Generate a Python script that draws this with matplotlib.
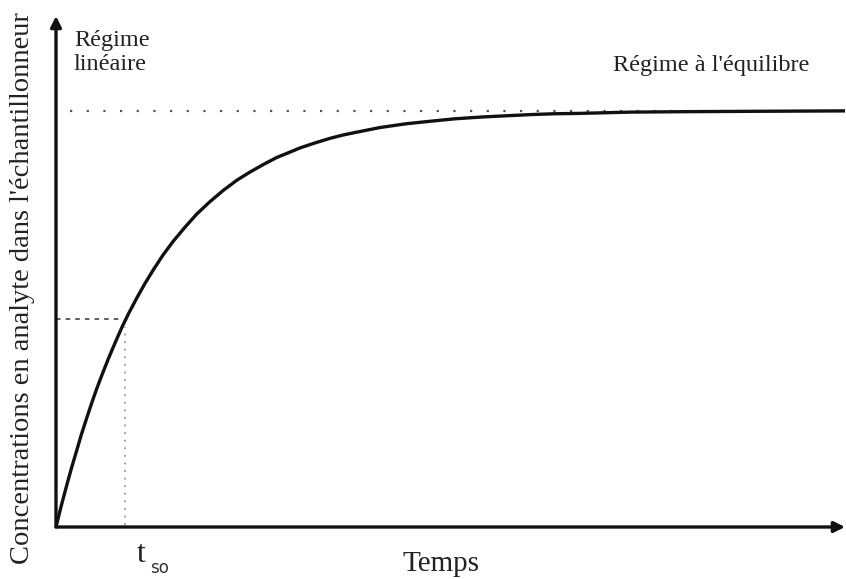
import matplotlib
matplotlib.use("Agg")
import matplotlib.pyplot as plt

# Concentration (time in units of t50,
# concentration as a fraction of the equilibrium value)
time = [0.0, 0.075, 0.153, 0.22, 0.296, 0.36, 0.439, 0.51, 0.581, 0.66,
        0.747, 0.84, 0.939, 1.04, 1.153, 1.27, 1.39, 1.53, 1.676, 1.84,
        2.01, 2.2, 2.39, 2.58, 2.771, 2.96, 3.153, 3.3, 3.486, 3.7, 3.914,
        4.1, 4.271, 4.45, 4.629, 5.0, 5.343, 5.7, 6.057, 6.4, 6.771, 7.1,
        7.486, 8.2, 8.914, 10.0, 11.29]
conc = [0.0, 0.051, 0.100, 0.141, 0.184, 0.221, 0.262, 0.298, 0.332, 0.367,
        0.404, 0.441, 0.479, 0.514, 0.550, 0.585, 0.618, 0.654, 0.687, 0.720,
        0.752, 0.782, 0.809, 0.833, 0.853, 0.871, 0.888, 0.898, 0.911, 0.923,
        0.934, 0.942, 0.948, 0.954, 0.960, 0.969, 0.975, 0.981, 0.985, 0.988,
        0.991, 0.993, 0.994, 0.997, 0.998, 0.999, 1.0]

t_half = 0.99
c_half = 0.5
c_eq = 1.0

x_max = 11.27
y_max = 1.228

plt.rcParams["font.family"] = ["Liberation Serif", "DejaVu Serif"]

W, H = 846, 579
fig = plt.figure(figsize=(W / 100, H / 100), dpi=100)
fig.patch.set_facecolor("white")
ax = fig.add_axes([56 / W, (H - 527) / H, (845 - 56) / W, (527 - 16) / H])
ax.set_xlim(0, x_max)
ax.set_ylim(0, y_max)
ax.axis("off")

ink = "#111111"

# axes drawn as arrows
for end in [(x_max, 0), (0, y_max)]:
    ax.annotate("", xy=end, xytext=(0, 0),
                arrowprops=dict(arrowstyle="-|>", color=ink, lw=2.4,
                                mutation_scale=16, shrinkA=0, shrinkB=0),
                annotation_clip=False)

# equilibrium level
ax.plot([0.2, x_max], [c_eq, c_eq], color="#555555", lw=1.6,
        linestyle=(0, (1, 6.5)), solid_capstyle="round", zorder=1)

# half-equilibrium guides
ax.plot([0, t_half - 0.07], [c_half, c_half], color="#333333", lw=1.1,
        linestyle=(0, (3, 3.3)), zorder=1)
ax.plot([t_half, t_half], [0.005, c_half - 0.02], color="#999999",
        lw=1.3, linestyle=(0, (1, 3.2)), zorder=1)

# uptake curve
ax.plot(time, conc, color=ink, lw=2.4, solid_joinstyle="round",
        solid_capstyle="round", zorder=3)

# labels
txt = "#222222"
fig.text(74 / W, 1 - 30 / H, "Régime\nlinéaire", ha="left", va="top",
         fontsize=17.5, color=txt, linespacing=1.2)
fig.text(711 / W, 1 - 71 / H, "Régime à l'équilibre", ha="center",
         va="baseline", fontsize=17.5, color=txt)
fig.text(23 / W, 1 - 288 / H, "Concentrations en analyte dans l'échantillonneur",
         rotation=90, ha="center", va="center", fontsize=20.5, color=txt)
fig.text(441 / W, 1 - 571 / H, "Temps", ha="center", va="baseline",
         fontsize=21, color=txt)
fig.text(141 / W, 1 - 562 / H, "t", ha="center", va="baseline",
         fontsize=23, color=txt)
fig.text(159 / W, 1 - 573 / H, "so", ha="center", va="baseline",
         fontsize=12, color="#333333", family=["DejaVu Sans"])

fig.savefig("out.png", dpi=100, facecolor="white")
